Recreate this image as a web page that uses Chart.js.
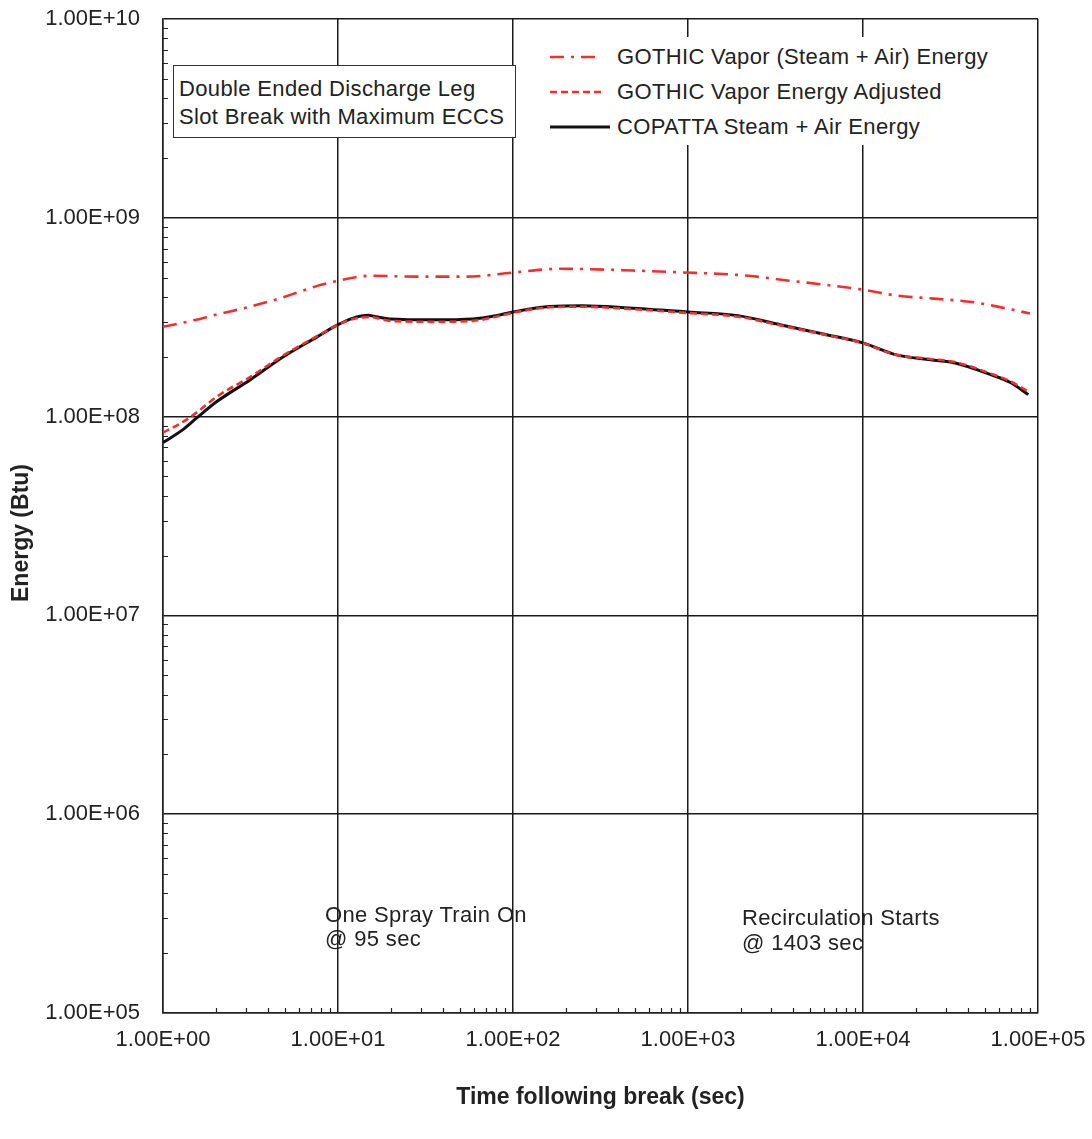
<!DOCTYPE html>
<html>
<head>
<meta charset="utf-8">
<script src="https://cdn.jsdelivr.net/npm/chart.js@4.4.1/dist/chart.umd.min.js"></script>
<style>
  html, body { margin: 0; padding: 0; background: #fff; }
  #wrap { position: relative; width: 1092px; height: 1139px; overflow: hidden; }
  #c { position: absolute; left: 0; top: 0; }
  .t { position: absolute; font-family: 'Liberation Sans', Arial, sans-serif; font-size: 22px; line-height: 22px; letter-spacing: 0.35px; color: #222; white-space: nowrap; }
  #ytitle { position: absolute; left: 20px; top: 533px; font-family: 'Liberation Sans', Arial, sans-serif; font-size: 23px; line-height: 26px; font-weight: bold; color: #222; white-space: nowrap; transform: translate(-50%, -50%) rotate(-90deg); }
  #legend { position: absolute; left: 530px; top: 37px; width: 500px; height: 108px; background: #fff; }
  #note { position: absolute; left: 173px; top: 65px; width: 343px; height: 73px; background: #fff; border: 1.5px solid #333; box-sizing: border-box; }
  svg.s { position: absolute; }
</style>
</head>
<body>
<div id="wrap">
  <canvas id="c" width="1092" height="1139"></canvas>
</div>
<script>
// ---- Data ----
const xTicks = [1, 10, 100, 1000, 10000, 100000];
const yTicks = [1e5, 1e6, 1e7, 1e8, 1e9, 1e10];

const seriesNames = [
  'GOTHIC Vapor (Steam + Air) Energy',
  'GOTHIC Vapor Energy Adjusted',
  'COPATTA Steam + Air Energy'
];

const vaporTime = [1, 1.5, 2, 3.14, 4.5, 6.06, 8, 10, 15.2, 28.3, 54.6, 100, 184, 485, 843, 2117, 3680, 6100, 10000, 15300, 25400, 42200, 64000, 90000];
const vaporEnergy = [2.83e8, 3.05e8, 3.25e8, 3.57e8, 3.9e8, 4.25e8, 4.6e8, 4.82e8, 5.11e8, 5.06e8, 5.06e8, 5.3e8, 5.54e8, 5.43e8, 5.33e8, 5.13e8, 4.84e8, 4.6e8, 4.35e8, 4.07e8, 3.92e8, 3.77e8, 3.52e8, 3.3e8];

const adjTime = [1, 1.3, 1.56, 2.03, 3.14, 4.87, 7.55, 10, 12.2, 15, 20, 35, 59, 80, 100, 163, 250, 460, 1000, 1930, 3360, 5830, 10000, 15300, 24300, 33600, 53200, 70000, 90000];
const adjEnergy = [8.3e7, 9.4e7, 1.05e8, 1.26e8, 1.58e8, 2.03e8, 2.53e8, 2.9e8, 3.1e8, 3.17e8, 3.03e8, 3.0e8, 3.03e8, 3.18e8, 3.33e8, 3.55e8, 3.57e8, 3.48e8, 3.32e8, 3.18e8, 2.88e8, 2.6e8, 2.34e8, 2.05e8, 1.95e8, 1.88e8, 1.65e8, 1.5e8, 1.32e8];

const copTime = [1, 1.3, 1.56, 2.03, 3.14, 4.87, 7.55, 10, 12.2, 14.9, 16.5, 19.8, 35, 59, 80, 100, 163, 250, 460, 1000, 1930, 3360, 5830, 10000, 15300, 24300, 33600, 53200, 70000, 88000];
const copEnergy = [7.4e7, 8.6e7, 9.85e7, 1.19e8, 1.53e8, 2.0e8, 2.51e8, 2.9e8, 3.13e8, 3.23e8, 3.18e8, 3.1e8, 3.07e8, 3.1e8, 3.22e8, 3.36e8, 3.58e8, 3.61e8, 3.52e8, 3.36e8, 3.22e8, 2.9e8, 2.61e8, 2.35e8, 2.05e8, 1.93e8, 1.86e8, 1.63e8, 1.48e8, 1.29e8];

const noteLines = ['Double Ended Discharge Leg', 'Slot Break with Maximum ECCS'];
const sprayLines = ['One Spray Train On', '@ 95 sec'];
const recircLines = ['Recirculation Starts', '@ 1403 sec'];
const xTitle = 'Time following break (sec)';
const yTitle = 'Energy (Btu)';

// ---- helpers ----
function fmt(v) {
  const e = Math.round(Math.log10(v));
  const m = v / Math.pow(10, e);
  return m.toFixed(2) + 'E' + (e < 0 ? '-' : '+') + String(Math.abs(e)).padStart(2, '0');
}
function pts(xs, ys) { return xs.map((x, i) => ({ x: x, y: ys[i] })); }

const RED = '#f03030';
const FONT = "'Liberation Sans', Arial, sans-serif";

const minorTicks = {
  id: 'minorTicks',
  afterDatasetsDraw(chart) {
    const ctx = chart.ctx, xs = chart.scales.x, ys = chart.scales.y;
    ctx.save();
    ctx.strokeStyle = '#222';
    ctx.lineWidth = 1.2;
    ctx.beginPath();
    for (let d = 1; d < 1e5; d *= 10) {
      for (let k = 2; k <= 9; k++) {
        const px = Math.round(xs.getPixelForValue(k * d)) + 0.5;
        ctx.moveTo(px, ys.bottom);
        ctx.lineTo(px, ys.bottom - 5);
      }
    }
    for (let d = 1e5; d < 1e10; d *= 10) {
      for (let k = 2; k <= 9; k++) {
        const py = Math.round(ys.getPixelForValue(k * d)) + 0.5;
        ctx.moveTo(xs.left, py);
        ctx.lineTo(xs.left + 5, py);
      }
    }
    ctx.stroke();
    ctx.restore();
  }
};

const chart = new Chart(document.getElementById('c'), {
  type: 'line',
  data: {
    datasets: [
      { label: seriesNames[0], data: pts(vaporTime, vaporEnergy), borderColor: RED, borderWidth: 2.6, borderDash: [14, 7, 3, 7], pointRadius: 0, cubicInterpolationMode: 'monotone', fill: false },
      { label: seriesNames[1], data: pts(adjTime, adjEnergy), borderColor: RED, borderWidth: 2.6, borderDash: [7, 4], pointRadius: 0, cubicInterpolationMode: 'monotone', fill: false },
      { label: seriesNames[2], data: pts(copTime, copEnergy), borderColor: '#111', borderWidth: 3, pointRadius: 0, cubicInterpolationMode: 'monotone', fill: false }
    ]
  },
  options: {
    responsive: false,
    devicePixelRatio: 1,
    animation: false,
    parsing: true,
    layout: { padding: { top: 19, right: 54, left: 0, bottom: 0 } },
    plugins: { legend: { display: false }, tooltip: { enabled: false }, title: { display: false } },
    scales: {
      x: {
        type: 'logarithmic', position: 'bottom', min: 1, max: 1e5,
        afterBuildTicks(s) { s.ticks = xTicks.map(v => ({ value: v })); },
        afterFit(s) { s.height = 126; s.paddingLeft = 0; s.paddingRight = 0; },
        ticks: { callback: v => fmt(v), autoSkip: false, maxRotation: 0, padding: 14, color: '#222', font: { family: FONT, size: 22 } },
        grid: { color: '#1a1a1a', lineWidth: 1.5, drawTicks: false },
        border: { color: '#222', width: 1.5 },
        title: { display: true, text: xTitle, color: '#222', font: { family: FONT, size: 23, weight: 'bold' }, padding: { top: 0, bottom: 28 } }
      },
      y: {
        type: 'logarithmic', position: 'left', min: 1e5, max: 1e10,
        afterBuildTicks(s) { s.ticks = yTicks.map(v => ({ value: v })); },
        afterFit(s) { s.width = 163; s.paddingTop = 0; s.paddingBottom = 0; },
        ticks: { callback: v => fmt(v), autoSkip: false, padding: 23, color: '#222', font: { family: FONT, size: 22 } },
        grid: { color: '#1a1a1a', lineWidth: 1.5, drawTicks: false },
        border: { color: '#222', width: 1.5 },
        title: { display: false, text: yTitle }
      }
    }
  },
  plugins: [minorTicks]
});

// ---- overlays: axis title, legend, note box, annotations ----
const wrap = document.getElementById('wrap');
function addText(txt, left, top) {
  const d = document.createElement('div');
  d.className = 't';
  d.style.left = left + 'px';
  d.style.top = top + 'px';
  d.textContent = txt;
  wrap.appendChild(d);
  return d;
}
const yt = document.createElement('div'); yt.id = 'ytitle'; yt.textContent = yTitle; wrap.appendChild(yt);
const leg = document.createElement('div'); leg.id = 'legend'; wrap.appendChild(leg);
const legRows = [56.7, 91.7, 126.7];
const legDash = ['14 7 3 7', '7 4', ''];
const legColor = [RED, RED, '#111'];
const legWidth = [2.6, 2.6, 3];
const legLen = [52, 55, 60];
seriesNames.forEach((name, i) => {
  const svgNS = 'http://www.w3.org/2000/svg';
  const svg = document.createElementNS(svgNS, 'svg');
  svg.setAttribute('class', 's');
  svg.setAttribute('width', '70'); svg.setAttribute('height', '10');
  svg.style.left = '550px'; svg.style.top = (legRows[i] - 5) + 'px';
  const ln = document.createElementNS(svgNS, 'line');
  ln.setAttribute('x1', '0'); ln.setAttribute('x2', String(legLen[i]));
  ln.setAttribute('y1', '5'); ln.setAttribute('y2', '5');
  ln.setAttribute('stroke', legColor[i]); ln.setAttribute('stroke-width', String(legWidth[i]));
  if (legDash[i]) ln.setAttribute('stroke-dasharray', legDash[i]);
  svg.appendChild(ln);
  wrap.appendChild(svg);
  addText(name, 617, legRows[i] - 10.7);
});
const note = document.createElement('div'); note.id = 'note'; wrap.appendChild(note);
addText(noteLines[0], 179, 78);
addText(noteLines[1], 179, 106);
addText(sprayLines[0], 325, 903.5);
addText(sprayLines[1], 325, 928.3);
addText(recircLines[0], 742, 907.3);
addText(recircLines[1], 742, 931.8);
</script>
</body>
</html>
